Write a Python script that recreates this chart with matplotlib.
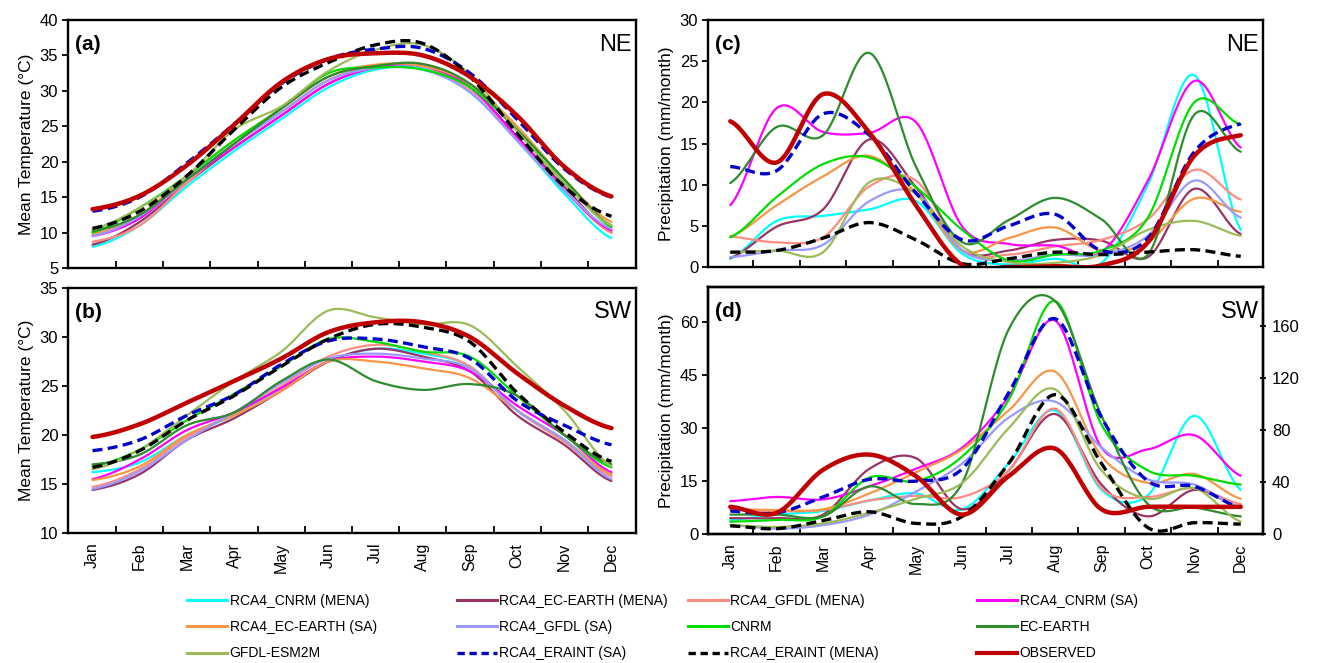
import numpy as np
import matplotlib
matplotlib.use("Agg")
import matplotlib.pyplot as plt
from matplotlib.lines import Line2D
from matplotlib import font_manager

plt.rcParams['font.family'] = ['Liberation Sans', 'DejaVu Sans']

_names = {f.name for f in font_manager.fontManager.ttflist}
if 'Liberation Sans Narrow' in _names:
    LEG_FONT = dict(family=['Liberation Sans Narrow', 'Liberation Sans'], size=12)
else:
    LEG_FONT = dict(family=['Liberation Sans', 'DejaVu Sans'], size=10)

months = ['Jan', 'Feb', 'Mar', 'Apr', 'May', 'Jun', 'Jul', 'Aug', 'Sep', 'Oct', 'Nov', 'Dec']

series_names = ['RCA4_CNRM (MENA)', 'RCA4_EC-EARTH (MENA)', 'RCA4_GFDL (MENA)', 'RCA4_CNRM (SA)',
                'RCA4_EC-EARTH (SA)', 'RCA4_GFDL (SA)', 'CNRM', 'EC-EARTH',
                'GFDL-ESM2M', 'RCA4_ERAINT (SA)', 'RCA4_ERAINT (MENA)', 'OBSERVED']

# ---- (a) Temperature NE ----
temp_ne = {
    'RCA4_CNRM (MENA)':     [8.0, 11.0, 16.5, 21.5, 26.0, 30.5, 33.0, 33.2, 29.8, 23.0, 15.5, 9.2],
    'RCA4_EC-EARTH (MENA)': [8.3, 11.5, 17.0, 22.0, 26.5, 31.0, 33.3, 33.7, 30.5, 23.5, 16.5, 10.0],
    'RCA4_GFDL (MENA)':     [8.7, 11.0, 17.0, 22.5, 27.0, 31.5, 33.5, 33.5, 30.0, 23.0, 16.0, 10.0],
    'RCA4_CNRM (SA)':       [9.5, 12.0, 17.5, 22.0, 26.5, 31.0, 33.3, 33.5, 30.5, 23.5, 16.0, 10.3],
    'RCA4_EC-EARTH (SA)':   [9.8, 12.5, 18.0, 23.0, 27.5, 32.0, 33.7, 33.5, 31.0, 25.0, 17.5, 11.5],
    'RCA4_GFDL (SA)':       [9.5, 12.3, 17.5, 22.5, 27.0, 31.5, 33.2, 33.0, 29.8, 23.0, 16.0, 10.5],
    'CNRM':                 [10.0, 13.5, 18.0, 23.0, 27.5, 32.5, 33.3, 33.0, 30.5, 24.5, 17.5, 10.8],
    'EC-EARTH':             [10.2, 12.5, 17.5, 22.5, 27.5, 32.0, 33.5, 33.8, 31.0, 24.5, 17.5, 11.0],
    'GFDL-ESM2M':           [10.5, 13.5, 18.0, 24.5, 27.8, 32.8, 35.8, 36.5, 32.3, 24.3, 17.0, 11.0],
    'RCA4_ERAINT (SA)':     [13.0, 15.0, 19.8, 25.3, 31.0, 34.5, 35.9, 36.0, 32.5, 26.0, 19.0, 15.0],
    'RCA4_ERAINT (MENA)':   [10.6, 13.0, 18.0, 24.5, 30.5, 34.0, 36.5, 36.7, 32.0, 24.0, 16.5, 12.3],
    'OBSERVED':             [13.3, 15.2, 19.5, 25.2, 31.2, 34.5, 35.3, 35.0, 32.0, 26.5, 19.3, 15.1],
}

# ---- (b) Temperature SW ----
temp_sw = {
    'RCA4_CNRM (MENA)':     [16.2, 17.2, 20.0, 22.0, 24.8, 27.5, 28.8, 28.3, 27.0, 22.5, 19.5, 16.0],
    'RCA4_EC-EARTH (MENA)': [14.4, 16.0, 19.5, 21.7, 24.5, 27.5, 28.8, 28.0, 26.5, 22.0, 19.0, 15.3],
    'RCA4_GFDL (MENA)':     [14.7, 16.5, 19.8, 22.2, 25.0, 28.0, 29.2, 28.5, 27.0, 22.5, 19.3, 15.8],
    'RCA4_CNRM (SA)':       [15.5, 17.5, 20.5, 22.3, 24.8, 27.5, 28.0, 27.5, 26.5, 23.0, 20.0, 16.2],
    'RCA4_EC-EARTH (SA)':   [15.4, 16.8, 20.0, 22.0, 24.5, 27.5, 27.5, 26.8, 25.8, 22.5, 19.5, 16.0],
    'RCA4_GFDL (SA)':       [14.5, 16.3, 19.5, 22.3, 25.3, 27.8, 28.3, 27.8, 26.8, 22.5, 19.5, 15.5],
    'CNRM':                 [16.8, 18.5, 21.5, 24.2, 27.0, 29.8, 29.5, 28.5, 28.0, 24.0, 20.0, 16.7],
    'EC-EARTH':             [17.0, 18.0, 21.0, 22.3, 25.5, 27.7, 25.5, 24.6, 25.2, 24.0, 20.0, 17.0],
    'GFDL-ESM2M':           [16.5, 18.5, 22.0, 25.5, 28.5, 32.7, 32.0, 31.3, 31.2, 27.0, 22.5, 16.8],
    'RCA4_ERAINT (SA)':     [18.4, 19.5, 22.0, 24.1, 27.2, 29.6, 29.8, 29.0, 27.8, 23.5, 21.0, 19.0],
    'RCA4_ERAINT (MENA)':   [16.7, 18.4, 21.5, 24.0, 27.0, 29.8, 31.3, 31.0, 29.5, 24.3, 20.3, 17.3],
    'OBSERVED':             [19.8, 21.1, 23.3, 25.5, 27.8, 30.5, 31.5, 31.5, 30.0, 26.3, 23.0, 20.7],
}

# ---- (c) Precipitation NE ----
prec_ne = {
    'RCA4_CNRM (MENA)':     [1.0, 5.6, 6.2, 7.0, 8.0, 1.6, 0.3, 1.0, 0.5, 10.0, 23.3, 4.5],
    'RCA4_EC-EARTH (MENA)': [1.1, 4.9, 7.0, 15.5, 9.7, 2.0, 2.0, 3.3, 3.2, 1.2, 9.5, 4.0],
    'RCA4_GFDL (MENA)':     [3.7, 3.0, 3.6, 9.8, 10.5, 2.0, 1.5, 2.5, 3.3, 5.8, 11.8, 8.2],
    'RCA4_CNRM (SA)':       [7.5, 19.3, 16.4, 16.3, 17.6, 4.9, 2.8, 2.6, 1.8, 10.5, 22.6, 14.5],
    'RCA4_EC-EARTH (SA)':   [3.7, 7.5, 11.0, 13.5, 9.0, 2.0, 3.5, 4.8, 2.0, 3.0, 8.3, 6.7],
    'RCA4_GFDL (SA)':       [1.2, 2.0, 2.7, 8.0, 9.0, 2.0, 0.8, 1.5, 1.5, 3.8, 10.5, 6.0],
    'CNRM':                 [3.6, 8.5, 12.5, 13.3, 9.7, 4.5, 0.8, 1.5, 2.0, 6.0, 20.0, 17.3],
    'EC-EARTH':             [10.2, 17.0, 16.0, 26.0, 12.2, 3.0, 5.7, 8.4, 5.8, 1.5, 18.5, 14.0],
    'GFDL-ESM2M':           [1.8, 2.0, 1.8, 10.3, 8.9, 2.5, 0.6, 0.5, 1.5, 4.5, 5.6, 3.8],
    'RCA4_ERAINT (SA)':     [12.2, 11.7, 18.6, 16.0, 9.0, 3.3, 5.0, 6.4, 2.0, 3.5, 14.0, 17.4],
    'RCA4_ERAINT (MENA)':   [1.8, 2.0, 3.5, 5.4, 3.3, 0.4, 1.0, 1.8, 1.5, 1.8, 2.1, 1.3],
    'OBSERVED':             [17.7, 12.7, 21.0, 16.3, 7.5, 0.2, 0.0, 0.1, 0.2, 3.0, 13.5, 16.0],
}

# ---- (d) Precipitation SW ----
prec_sw = {
    'RCA4_CNRM (MENA)':     [4.0, 5.5, 6.5, 9.5, 11.5, 7.0, 20.0, 35.0, 12.5, 11.0, 33.5, 12.5],
    'RCA4_EC-EARTH (MENA)': [4.5, 4.5, 5.5, 18.5, 21.5, 7.0, 18.0, 34.0, 14.0, 5.0, 12.5, 7.5],
    'RCA4_GFDL (MENA)':     [6.9, 6.5, 6.8, 9.5, 10.8, 10.5, 18.0, 35.5, 13.0, 10.5, 13.0, 8.5],
    'RCA4_CNRM (SA)':       [9.3, 10.5, 9.8, 13.5, 18.5, 24.5, 39.0, 60.5, 24.5, 24.0, 28.0, 16.5],
    'RCA4_EC-EARTH (SA)':   [7.0, 6.8, 7.0, 11.5, 17.5, 24.0, 35.0, 46.0, 22.0, 14.5, 17.0, 10.0],
    'RCA4_GFDL (SA)':       [2.5, 1.5, 2.5, 5.5, 12.0, 20.0, 33.0, 37.5, 24.5, 15.5, 14.0, 7.5],
    'CNRM':                 [3.5, 4.0, 5.0, 16.0, 15.0, 22.0, 38.0, 66.0, 31.0, 18.0, 16.5, 14.0],
    'EC-EARTH':             [5.5, 5.5, 5.0, 13.5, 8.5, 14.5, 58.0, 66.0, 33.5, 8.5, 7.5, 5.0],
    'GFDL-ESM2M':           [2.5, 2.0, 3.0, 6.0, 10.0, 14.5, 30.0, 41.0, 18.0, 10.0, 13.0, 3.5],
    'RCA4_ERAINT (SA)':     [6.5, 6.0, 10.5, 15.5, 15.0, 18.5, 40.0, 61.0, 33.0, 15.0, 13.5, 7.5],
    'RCA4_ERAINT (MENA)':   [2.3, 1.5, 3.8, 6.3, 3.0, 5.0, 20.0, 39.5, 20.0, 1.8, 3.2, 2.8],
    'OBSERVED':             [7.7, 6.0, 18.2, 22.5, 16.4, 5.5, 16.4, 24.2, 7.0, 7.7, 7.7, 7.7],
}

styles = {
    'RCA4_CNRM (MENA)':     dict(color='#00FFFF', lw=1.6, ls='-'),
    'RCA4_EC-EARTH (MENA)': dict(color='#993366', lw=1.6, ls='-'),
    'RCA4_GFDL (MENA)':     dict(color='#FF8C80', lw=1.6, ls='-'),
    'RCA4_CNRM (SA)':       dict(color='#FF00FF', lw=1.6, ls='-'),
    'RCA4_EC-EARTH (SA)':   dict(color='#F79646', lw=1.6, ls='-'),
    'RCA4_GFDL (SA)':       dict(color='#9999FF', lw=1.6, ls='-'),
    'CNRM':                 dict(color='#00DD00', lw=1.6, ls='-'),
    'EC-EARTH':             dict(color='#2E8B2E', lw=1.6, ls='-'),
    'GFDL-ESM2M':           dict(color='#9BBB59', lw=1.6, ls='-'),
    'RCA4_ERAINT (SA)':     dict(color='#0000CC', lw=2.4, ls=(0, (3, 1.6))),
    'RCA4_ERAINT (MENA)':   dict(color='#000000', lw=2.4, ls=(0, (3, 1.6))),
    'OBSERVED':             dict(color='#C00000', lw=3.2, ls='-'),
}


def smooth(vals, n=24):
    """Catmull-Rom smoothing through the monthly values (Excel-like smoothed line)."""
    y = np.asarray(vals, dtype=float)
    p = np.concatenate([[y[0]], y, [y[-1]]])
    xs, ys = [], []
    t = np.linspace(0, 1, n, endpoint=False)
    for i in range(len(y) - 1):
        p0, p1, p2, p3 = p[i], p[i + 1], p[i + 2], p[i + 3]
        seg = 0.5 * ((2 * p1) + (-p0 + p2) * t + (2 * p0 - 5 * p1 + 4 * p2 - p3) * t ** 2
                     + (-p0 + 3 * p1 - 3 * p2 + p3) * t ** 3)
        xs.append(i + t)
        ys.append(seg)
    xs.append([len(y) - 1])
    ys.append([y[-1]])
    return np.concatenate(xs), np.concatenate(ys)


fig = plt.figure(figsize=(13.21, 6.63), dpi=100)

W, H = 1321.0, 663.0
def rect(l, t, r, b):
    return [l / W, 1 - b / H, (r - l) / W, (b - t) / H]

ax_a = fig.add_axes(rect(68, 20, 636, 268))
ax_b = fig.add_axes(rect(68, 288, 636, 533))
ax_c = fig.add_axes(rect(708, 20, 1263, 267))
ax_d = fig.add_axes(rect(708, 287, 1263, 534))

panels = [
    (ax_a, temp_ne, (5, 40), np.arange(5, 41, 5), '(a)', 'NE', 'Mean Temperature (°C)', False, 0.52),
    (ax_b, temp_sw, (10, 35), np.arange(10, 36, 5), '(b)', 'SW', 'Mean Temperature (°C)', True, 0.52),
    (ax_c, prec_ne, (0, 30), np.arange(0, 31, 5), '(c)', 'NE', 'Precipitation (mm/month)', False, 0.48),
    (ax_d, prec_sw, (0, 70), np.arange(0, 61, 15), '(d)', 'SW', 'Precipitation (mm/month)', True, 0.48),
]

for ax, data, ylim, yticks, tag, region, ylabel, show_months, xpad in panels:
    for name in series_names:
        xs, ys = smooth(data[name])
        st = styles[name]
        ax.plot(xs, ys, color=st['color'], lw=st['lw'], ls=st['ls'],
                solid_capstyle='round', dash_capstyle='butt')
    ax.set_xlim(-xpad, 11 + xpad)
    ax.set_ylim(*ylim)
    ax.set_yticks(yticks)
    ax.set_xticks(np.arange(0.5, 11, 1))
    ax.set_xticklabels([])
    ax.set_xticks(range(12), minor=True)
    if show_months:
        ax.set_xticklabels(months, minor=True, rotation=90, fontsize=11.5)
    ax.tick_params(axis='x', which='minor', length=0, pad=7)
    ax.tick_params(axis='x', which='major', direction='in', length=5, width=1.3)
    ax.tick_params(axis='y', direction='out', length=4, width=1.3, labelsize=12, pad=3)
    for sp in ax.spines.values():
        sp.set_linewidth(1.7)
    ax.set_ylabel(ylabel, fontsize=12.5, labelpad=4)
    ax.text(0.012, 0.90, tag, transform=ax.transAxes, fontsize=15, fontweight='bold',
            ha='left', va='center')
    ax.text(0.993, 0.90, region, transform=ax.transAxes, fontsize=17,
            ha='right', va='center')

# secondary axis on panel (d)
ax_d2 = ax_d.twinx()
ax_d2.set_ylim(0, 190)
ax_d2.set_yticks([0, 40, 80, 120, 160])
ax_d2.tick_params(axis='y', direction='inout', length=5, width=1.3, labelsize=12, pad=4)
for sp in ax_d2.spines.values():
    sp.set_linewidth(1.7)

# legend: 4 columns placed at fixed positions, filled row-wise
col_x = [187, 457, 688, 977]
for c in range(4):
    names = [series_names[r * 4 + c] for r in range(3)]
    hs = []
    for n in names:
        st = styles[n]
        if n in ('RCA4_ERAINT (SA)', 'RCA4_ERAINT (MENA)'):
            hs.append(Line2D([], [], color=st['color'], lw=2.4, ls=(0, (2.2, 1.4))))
        elif n == 'OBSERVED':
            hs.append(Line2D([], [], color=st['color'], lw=3.0))
        else:
            hs.append(Line2D([], [], color=st['color'], lw=2.2))
    fig.legend(hs, names, loc='upper left', bbox_to_anchor=(col_x[c] / W, 1 - 594 / H),
               frameon=False, prop=LEG_FONT, borderpad=0, borderaxespad=0,
               handlelength=2.6 * 11 / LEG_FONT['size'], handletextpad=0.2,
               labelspacing=0.8 * 11 / LEG_FONT['size'])

fig.savefig('out.png', dpi=100)
